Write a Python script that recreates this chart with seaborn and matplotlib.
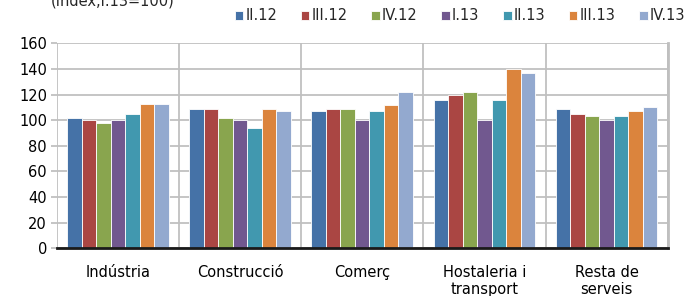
import matplotlib
matplotlib.use("Agg")
import matplotlib.pyplot as plt
import seaborn as sns
import pandas as pd

# Data (Index, I.13 = 100)
sectors = ["Indústria", "Construcció", "Comerç", "Hostaleria i\ntransport", "Resta de\nserveis"]
quarters = ["II.12", "III.12", "IV.12", "I.13", "II.13", "III.13", "IV.13"]
ii_12 = [102, 109, 107.5, 115.5, 109]
iii_12 = [100.5, 109, 109, 120, 105]
iv_12 = [98, 102, 109, 122, 103.5]
i_13 = [100, 100, 100, 100, 100]
ii_13 = [105, 94, 107.5, 115.5, 103.5]
iii_13 = [113, 109, 111.5, 140, 107.5]
iv_13 = [113, 107.5, 122, 137, 110]

colors = ["#4572A7", "#AA4643", "#89A54E", "#71588F", "#4198AF", "#DB843D", "#93A9CF"]

series = [ii_12, iii_12, iv_12, i_13, ii_13, iii_13, iv_13]
rows = []
for q, vals in zip(quarters, series):
    for s, v in zip(sectors, vals):
        rows.append({"sector": s, "quarter": q, "value": v})
df = pd.DataFrame(rows)

sns.set_theme(style="white")
plt.rcParams["font.family"] = ["DejaVu Sans"]

fig = plt.figure(figsize=(6.89, 2.96), dpi=100)
ax = fig.add_axes([0.0823, 0.161, 0.8868, 0.6926])

sns.barplot(data=df, x="sector", y="value", hue="quarter", order=sectors,
            hue_order=quarters, palette=colors, saturation=1, width=0.83,
            edgecolor="white", linewidth=0.6, ax=ax, legend=True)

ax.set_xlim(-0.5, 4.5)
ax.set_ylim(0, 160)
ax.set_yticks(range(0, 161, 20))
ax.set_xticks([i + 0.5 for i in range(-1, 5)], minor=True)
ax.set_axisbelow(True)
ax.grid(axis="y", which="major", color="#C0C0C0", linewidth=1.3)
ax.grid(axis="x", which="minor", color="#C0C0C0", linewidth=1.3)
ax.set_xlabel("")
ax.set_ylabel("")

for side in ["left", "top"]:
    ax.spines[side].set_visible(False)
ax.spines["right"].set_color("#BFBFBF")
ax.spines["right"].set_linewidth(2)
ax.spines["bottom"].set_color("#1a1a1a")
ax.spines["bottom"].set_linewidth(2)

ax.tick_params(axis="y", which="major", left=True, length=4, width=1.3,
               color="#C0C0C0", pad=3, labelsize=10.5, labelcolor="#000000")
ax.tick_params(axis="x", which="both", bottom=False, pad=6, labelsize=10.5,
               labelcolor="#000000")
for lbl in ax.get_xticklabels():
    lbl.set_linespacing(1.2)

handles, labels = ax.get_legend_handles_labels()
ax.legend_.remove()
fig.legend(handles, labels, ncol=7, loc="center right",
           bbox_to_anchor=(1.003, 0.946), frameon=False, fontsize=10.5,
           handlelength=0.6, handleheight=0.6, handletextpad=0.15,
           columnspacing=1.6, borderaxespad=0)

fig.text(0.074, 0.998, "(Index,I.13=100)", fontsize=10.5, ha="left", va="center")

fig.savefig("out.png", dpi=100)
